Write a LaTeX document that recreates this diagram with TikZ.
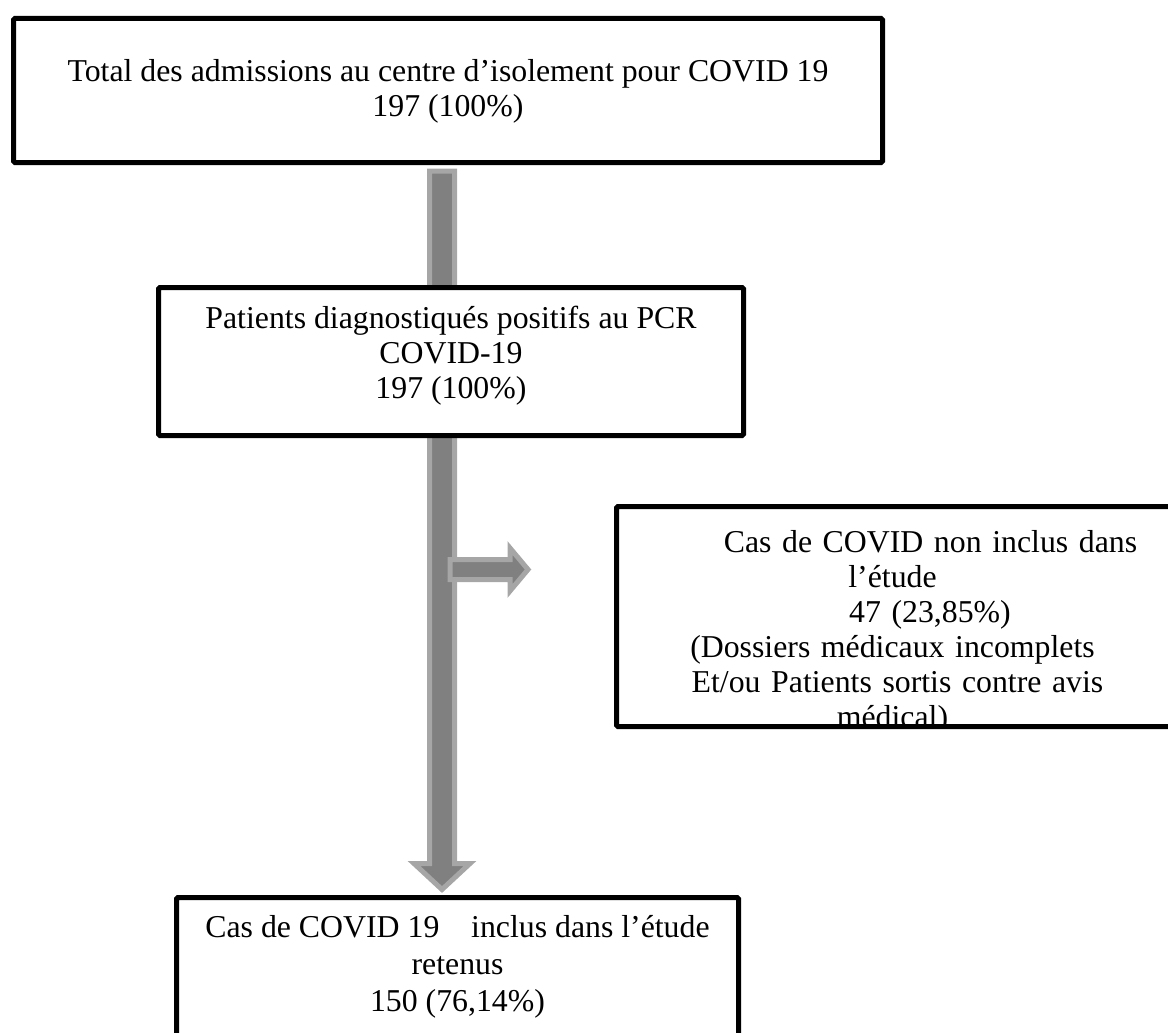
\documentclass[tikz,border=0pt]{standalone}
\usepackage{fontspec}
\setmainfont{Liberation Serif}
\usetikzlibrary{calc}

\definecolor{arrowfill}{HTML}{808080}
\definecolor{arrowedge}{HTML}{A6A6A6}

\begin{document}
\begin{tikzpicture}[x=1pt, y=-1pt,
    box/.style={draw, line width=5pt, rounded corners=1.5pt, fill=white, inner sep=0pt},
    lbl/.style={font=\fontsize{31.8}{35}\selectfont, align=center, inner sep=0pt},
    blockarrow/.style={draw=arrowedge, fill=arrowfill, line width=5pt, line join=miter}]
        \useasboundingbox (0,0) rectangle (1168,1033);
        \coordinate (spine) at (442,0);
        % boxes (frames only, text comes after)
        \node[box, minimum width=869pt, minimum height=144pt] (total) at (448,90.5) {};
        \node[box, minimum width=562pt, minimum height=150pt] (retenus) at (457.5,972.5) {};
        % main flow arrow, runs behind the second box
        \draw[blockarrow] let \p1=(spine |- total.south), \p2=(spine |- retenus.north) in
            (\x1-12.5pt,\y1-6pt) -- (\x1-12.5pt,\y2+31.5pt) -- (\x1-28pt,\y2+31.5pt)
            -- (\x1,\y2+5.5pt) -- (\x1+28pt,\y2+31.5pt) -- (\x1+12.5pt,\y2+31.5pt)
            -- (\x1+12.5pt,\y1-6pt) -- cycle;
        \node[box, minimum width=585pt, minimum height=148pt] (positifs) at (451,361.5) {};
        \node[box, minimum width=564pt, minimum height=220pt] (exclus) at (898.5,616.5) {};
        % side arrow towards the excluded cases
        \coordinate (branch) at (spine |- 0,569.5);
        \draw[blockarrow] ($(branch)+(8,-10)$) -- ++(60,0) -- ++(0,-11.5) -- ++(18,21.5)
            -- ++(-18,21.5) -- ++(0,-11.5) -- ++(-60,0) -- cycle;
        % texts
        \node[lbl] (total-txt) at (448,91)
            {Total des admissions au centre d’isolement pour COVID 19\\197 (100\%)};
        \node[lbl] (positifs-txt) at (451,355.5)
            {Patients diagnostiqués positifs au PCR\\COVID-19\\197 (100\%)};
        \begin{scope}
            \clip ($(exclus.north west)+(2.5,2.5)$) rectangle ($(exclus.south east)+(-2.5,-2.5)$);
            \node[lbl, text width=520pt] (exclus-txt) at (892.5,632)
                {\hspace*{76pt}Cas de COVID non inclus dans\\
                 l’étude\\
                 \hspace*{75pt}47 (23,85\%)\\
                 (Dossiers médicaux incomplets\\
                 \hspace*{10pt}Et/ou Patients sortis contre avis\\
                 médical)\hspace*{120pt}};
        \end{scope}
        \node[lbl, font=\fontsize{31.8}{37}\selectfont] (retenus-txt) at (457.5,966.5)
            {Cas de COVID 19\ \ \ \ inclus dans l’étude\\retenus\\150 (76,14\%)};
    \end{tikzpicture}
\end{document}
